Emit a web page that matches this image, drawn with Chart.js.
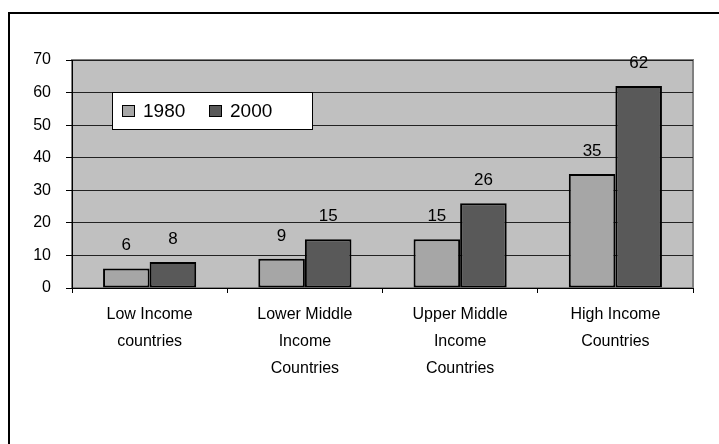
<!DOCTYPE html>
<html>
<head>
<meta charset="utf-8">
<script src="https://cdn.jsdelivr.net/npm/chart.js@4/dist/chart.umd.min.js"></script>
<style>
  html, body { margin: 0; padding: 0; background: #fff; }
  #wrap { position: relative; width: 719px; height: 444px; }
</style>
</head>
<body>
<div id="wrap"><canvas id="chart" width="719" height="444"></canvas></div>
<script>
// Datos del gráfico
const categorias = [
    ['Low Income', 'countries'],
    ['Lower Middle', 'Income', 'Countries'],
    ['Upper Middle', 'Income', 'Countries'],
    ['High Income', 'Countries']
];
const series = ['1980', '2000'];
const valores1980 = [6, 9, 15, 35];
const valores2000 = [8, 15, 26, 62];
const colores = ['#a6a6a6', '#595959'];
const ticksY = [0, 10, 20, 30, 40, 50, 60, 70];

Chart.defaults.font.family = 'Arial, "Liberation Sans", sans-serif';
Chart.defaults.color = '#000';

/**
 * Fondo gris del área de trazado y marco exterior
 */
const fondoPlugin = {
    id: 'fondo',
    beforeDraw(chart) {
        const ctx = chart.ctx;
        const a = chart.chartArea;
        ctx.save();
        // marco exterior (solo izquierda y arriba)
        ctx.strokeStyle = '#000';
        ctx.lineWidth = 2;
        ctx.beginPath();
        ctx.moveTo(9, 444);
        ctx.lineTo(9, 13);
        ctx.lineTo(719, 13);
        ctx.stroke();
        // área de trazado
        ctx.fillStyle = '#c0c0c0';
        ctx.fillRect(a.left, a.top, a.right - a.left, a.bottom - a.top);
        ctx.strokeStyle = '#808080';
        ctx.lineWidth = 2;
        ctx.strokeRect(a.left, a.top, a.right - a.left, a.bottom - a.top);
        ctx.restore();
    }
};

/**
 * Etiquetas de valor encima de cada barra
 */
const etiquetasPlugin = {
    id: 'etiquetas',
    afterDatasetsDraw(chart) {
        const ctx = chart.ctx;
        ctx.save();
        ctx.font = '17px Arial, "Liberation Sans", sans-serif';
        ctx.fillStyle = '#000';
        ctx.textAlign = 'center';
        ctx.textBaseline = 'alphabetic';
        chart.data.datasets.forEach(function(ds, i) {
            chart.getDatasetMeta(i).data.forEach(function(bar, j) {
                ctx.fillText(String(ds.data[j]), bar.x, bar.y - 18);
            });
        });
        ctx.restore();
    }
};

/**
 * Leyenda dentro del área de trazado
 */
const leyendaPlugin = {
    id: 'leyendaInterna',
    afterDraw(chart) {
        const ctx = chart.ctx;
        ctx.save();
        ctx.fillStyle = '#fff';
        ctx.fillRect(112, 92, 200, 38);
        ctx.strokeStyle = '#000';
        ctx.lineWidth = 1;
        ctx.strokeRect(112.5, 92.5, 200, 37);
        const posiciones = [[122, 143], [209, 230]];
        ctx.font = '19px Arial, "Liberation Sans", sans-serif';
        ctx.textBaseline = 'middle';
        series.forEach(function(nombre, i) {
            const p = posiciones[i];
            ctx.fillStyle = colores[i];
            ctx.fillRect(p[0], 105, 13, 12);
            ctx.strokeStyle = '#000';
            ctx.strokeRect(p[0] + 0.5, 105.5, 12, 11);
            ctx.fillStyle = '#000';
            ctx.fillText(nombre, p[1], 112);
        });
        ctx.restore();
    }
};

new Chart(document.getElementById('chart'), {
    type: 'bar',
    data: {
        labels: categorias,
        datasets: [{
            label: series[0],
            data: valores1980,
            backgroundColor: colores[0],
            borderColor: '#000',
            borderWidth: 2,
            borderSkipped: false
        }, {
            label: series[1],
            data: valores2000,
            backgroundColor: colores[1],
            borderColor: '#000',
            borderWidth: 2,
            borderSkipped: false
        }]
    },
    options: {
        responsive: false,
        animation: false,
        layout: {
            padding: { top: 60, right: 26, left: 0, bottom: 0 }
        },
        datasets: {
            bar: { categoryPercentage: 0.6, barPercentage: 1.0 }
        },
        plugins: {
            legend: { display: false },
            tooltip: { enabled: false }
        },
        scales: {
            x: {
                afterFit: function(scale) { scale.height = 156; },
                grid: {
                    offset: true,
                    drawOnChartArea: false,
                    drawTicks: true,
                    tickLength: 5,
                    tickColor: '#000'
                },
                border: { color: '#000', width: 1 },
                ticks: {
                    font: { size: 16, lineHeight: 1.7 },
                    color: '#000',
                    padding: 8,
                    maxRotation: 0,
                    autoSkip: false
                }
            },
            y: {
                min: 0,
                max: 70,
                afterFit: function(scale) { scale.width = 72; },
                afterBuildTicks: function(scale) {
                    scale.ticks = ticksY.map(function(v) { return { value: v }; });
                },
                grid: {
                    color: '#222',
                    lineWidth: 1,
                    tickLength: 6,
                    tickColor: '#000'
                },
                border: { color: '#000', width: 1 },
                ticks: {
                    font: { size: 16 },
                    color: '#000',
                    padding: 15
                }
            }
        }
    },
    plugins: [fondoPlugin, etiquetasPlugin, leyendaPlugin]
});
</script>
</body>
</html>
